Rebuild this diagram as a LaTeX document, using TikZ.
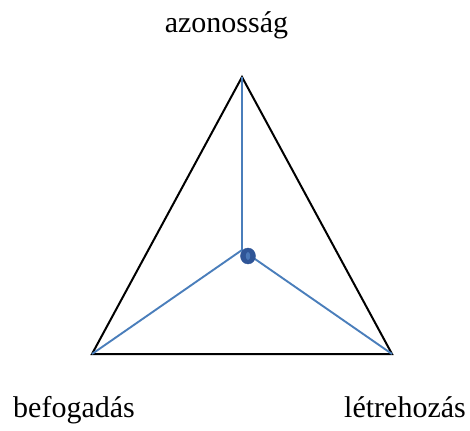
\documentclass[tikz,border=0pt]{standalone}
\usepackage{fontspec}
\setmainfont{Liberation Serif}
\usepackage{tikz}
\usetikzlibrary{positioning,calc,shapes.geometric}
\definecolor{ink}     {HTML}{000000}
\definecolor{linkblue}{HTML}{4A7EBB}
\definecolor{dotblue} {HTML}{2F5597}
\definecolor{dotcore} {HTML}{4A78B8}
\tikzset{
  % --- nodes
  lbl/.style  = {font=\fontsize{30}{34}\selectfont, inner sep=0pt, anchor=base},
  hub/.style  = {ellipse, minimum width=15pt, minimum height=16pt, inner sep=0pt,
                 fill=dotblue, draw=dotblue},
  % --- edges
  side/.style = {draw=ink, line width=2pt, line join=miter},
  spoke/.style= {draw=linkblue, line width=1.9pt},
}
\begin{document}
\begin{tikzpicture}[x=1pt,y=-1pt]
  \useasboundingbox (0,0) rectangle (470,430);
  \coordinate (top)   at (242,77);
  \coordinate (left)  at (92,354);
  \coordinate (right) at (392,354);
  \coordinate (mid)   at (242,250);

  \draw[side] (top) -- (left) -- (right) -- cycle;
  \foreach \v in {top,left,right} \draw[spoke] (\v) -- (mid);

  \node[hub] (dot) at (248,256) {};
  \fill[dotcore] (dot.center) ellipse (2.2pt and 4pt);

  \node[lbl] (azon) at (226.5,33)  {azonosság};
  \node[lbl] (befo) at (74,417)    {befogadás};
  \node[lbl] (letr) at (405,417)   {létrehozás};
\end{tikzpicture}
\end{document}
